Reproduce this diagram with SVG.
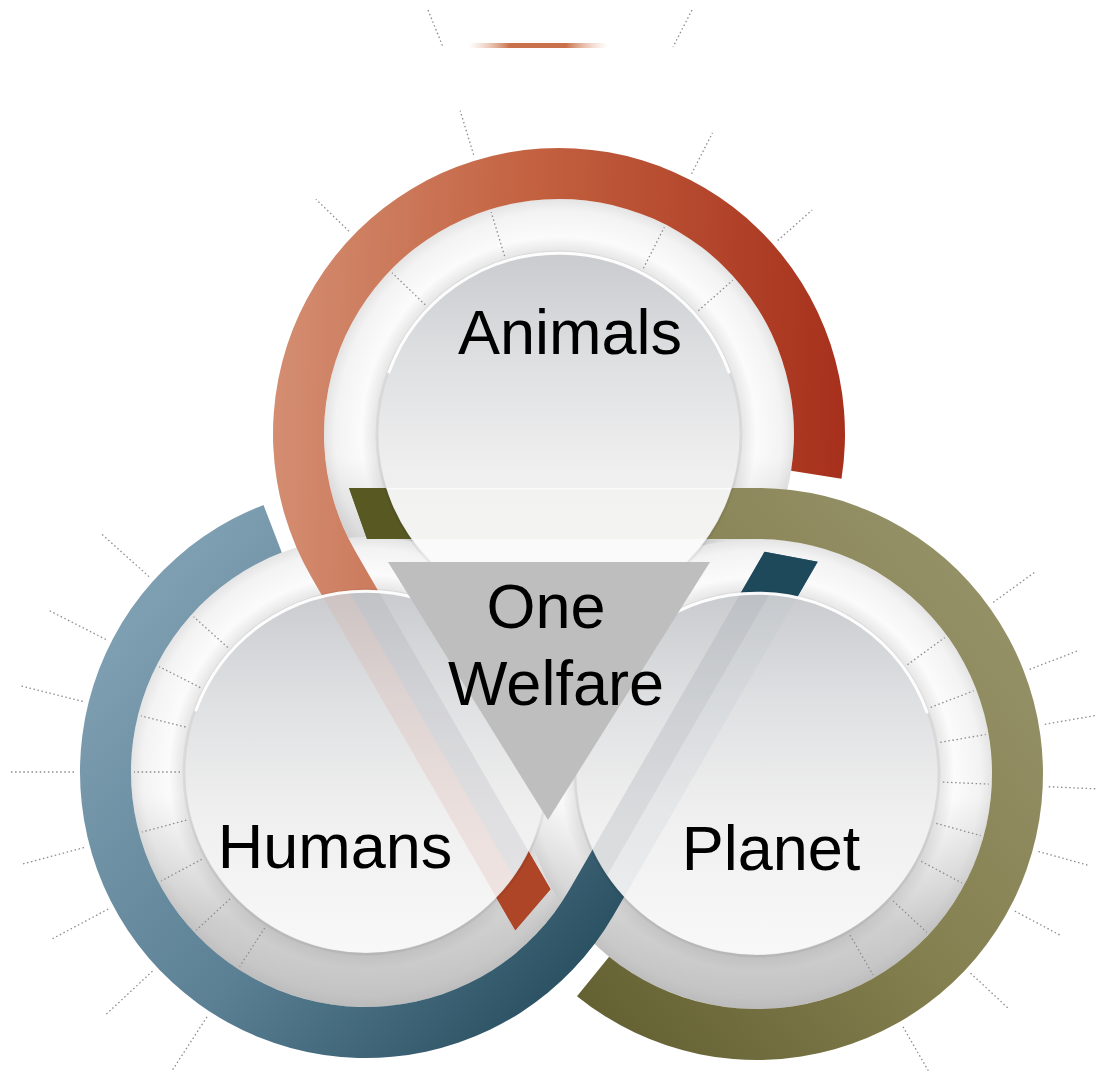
<svg xmlns="http://www.w3.org/2000/svg" width="1096" height="1088" viewBox="0 0 1096 1088">
  <defs>
    <style>
      .dot { stroke:#8c8c8c; stroke-width:1.3; stroke-dasharray:1.5 2.6; fill:none; }
      .plate { fill:url(#plateFill); }
      .plateShade { fill:url(#plateShade); }
      .disc { fill:url(#discFill); }
      .rim { fill:none; stroke:#ffffff; stroke-width:3; stroke-linecap:round; opacity:0.95; }
      .discEdge { fill:none; stroke:#000; stroke-opacity:0.05; stroke-width:3; }
      .label { font-family:"Liberation Sans", Arial, sans-serif; font-size:63px; fill:#000; text-anchor:middle; }
    </style>
    <radialGradient id="plateFill" cx="0.5" cy="0.5" r="0.5">
      <stop offset="0.76" stop-color="#e0e0e0"/>
      <stop offset="0.84" stop-color="#fbfbfb"/>
      <stop offset="0.95" stop-color="#f3f3f3"/>
      <stop offset="1" stop-color="#e4e4e4"/>
    </radialGradient>
    <linearGradient id="plateShade" x1="0" y1="0" x2="0" y2="1">
      <stop offset="0" stop-color="#9a9a9a" stop-opacity="0"/>
      <stop offset="0.55" stop-color="#9a9a9a" stop-opacity="0"/>
      <stop offset="0.82" stop-color="#9a9a9a" stop-opacity="0.45"/>
      <stop offset="1" stop-color="#9a9a9a" stop-opacity="0.55"/>
    </linearGradient>
    <linearGradient id="discFill" x1="0" y1="0" x2="0" y2="1">
      <stop offset="0" stop-color="#c9cbce"/>
      <stop offset="0.3" stop-color="#dfe0e2"/>
      <stop offset="0.6" stop-color="#efefef"/>
      <stop offset="1" stop-color="#f8f8f8"/>
    </linearGradient>
    <linearGradient id="redRing" gradientUnits="userSpaceOnUse" x1="270" y1="420" x2="850" y2="440">
      <stop offset="0" stop-color="#d48e72"/>
      <stop offset="0.45" stop-color="#c2603f"/>
      <stop offset="1" stop-color="#a62f1b"/>
    </linearGradient>
    <linearGradient id="blueRing" gradientUnits="userSpaceOnUse" x1="150" y1="600" x2="620" y2="1000">
      <stop offset="0" stop-color="#7e9eb1"/>
      <stop offset="0.5" stop-color="#5b8094"/>
      <stop offset="1" stop-color="#214859"/>
    </linearGradient>
    <linearGradient id="oliveRing" gradientUnits="userSpaceOnUse" x1="1040" y1="600" x2="560" y2="1000">
      <stop offset="0" stop-color="#97936a"/>
      <stop offset="0.5" stop-color="#858050"/>
      <stop offset="1" stop-color="#625f31"/>
    </linearGradient>
    <linearGradient id="topBar" x1="0" y1="0" x2="1" y2="0">
      <stop offset="0" stop-color="#e8b79c" stop-opacity="0"/>
      <stop offset="0.3" stop-color="#c9714a"/>
      <stop offset="0.7" stop-color="#c9714a"/>
      <stop offset="1" stop-color="#e8b79c" stop-opacity="0"/>
    </linearGradient>
    <clipPath id="clipAnimals"><circle cx="559" cy="434" r="181"/></clipPath>
    <clipPath id="clipHumans"><circle cx="366" cy="772" r="181"/></clipPath>
    <clipPath id="clipPlanet"><circle cx="757" cy="774" r="181"/></clipPath>
  </defs>

  <rect width="1096" height="1088" fill="#ffffff"/>

  <!-- strip along the top edge -->
  <g id="top-strip">
    <rect x="468" y="43" width="140" height="5" fill="url(#topBar)"/>
    <line class="dot" x1="428" y1="10" x2="443" y2="47"/>
    <line class="dot" x1="692" y1="10" x2="673" y2="47"/>
  </g>

  <!-- radial ticks outside the rings -->
  <g id="ticks-outer">
    <g transform="translate(559 434)">
      <line class="dot" x1="292" y1="0" x2="338" y2="0" transform="rotate(-136)"/>
      <line class="dot" x1="292" y1="0" x2="338" y2="0" transform="rotate(-107)"/>
      <line class="dot" x1="292" y1="0" x2="338" y2="0" transform="rotate(-63)"/>
      <line class="dot" x1="292" y1="0" x2="338" y2="0" transform="rotate(-41.5)"/>
    </g>
    <g transform="translate(366 772)">
      <line class="dot" x1="292" y1="0" x2="356" y2="0" transform="rotate(123)"/>
      <line class="dot" x1="292" y1="0" x2="356" y2="0" transform="rotate(137)"/>
      <line class="dot" x1="292" y1="0" x2="356" y2="0" transform="rotate(152)"/>
      <line class="dot" x1="292" y1="0" x2="356" y2="0" transform="rotate(165)"/>
      <line class="dot" x1="292" y1="0" x2="356" y2="0" transform="rotate(180)"/>
      <line class="dot" x1="292" y1="0" x2="356" y2="0" transform="rotate(194)"/>
      <line class="dot" x1="292" y1="0" x2="356" y2="0" transform="rotate(207)"/>
      <line class="dot" x1="292" y1="0" x2="356" y2="0" transform="rotate(222)"/>
    </g>
    <g transform="translate(757 774)">
      <line class="dot" x1="292" y1="0" x2="345" y2="0" transform="rotate(-36)"/>
      <line class="dot" x1="292" y1="0" x2="345" y2="0" transform="rotate(-21)"/>
      <line class="dot" x1="292" y1="0" x2="345" y2="0" transform="rotate(-9.8)"/>
      <line class="dot" x1="292" y1="0" x2="345" y2="0" transform="rotate(2.5)"/>
      <line class="dot" x1="292" y1="0" x2="345" y2="0" transform="rotate(15.4)"/>
      <line class="dot" x1="292" y1="0" x2="345" y2="0" transform="rotate(28)"/>
      <line class="dot" x1="292" y1="0" x2="345" y2="0" transform="rotate(43)"/>
      <line class="dot" x1="292" y1="0" x2="345" y2="0" transform="rotate(60)"/>
    </g>
  </g>

  <!-- white plates under each ring -->
  <g id="plates">
    <circle class="plate" cx="559" cy="434" r="235"/>
    <circle class="plateShade" cx="559" cy="434" r="235"/>
    <circle class="plate" cx="366" cy="772" r="235"/>
    <circle class="plateShade" cx="366" cy="772" r="235"/>
    <circle class="plate" cx="757" cy="774" r="235"/>
    <circle class="plateShade" cx="757" cy="774" r="235"/>
  </g>

  <!-- ticks across the plates -->
  <g id="ticks-plate">
    <g transform="translate(559 434)">
      <line class="dot" x1="186" y1="0" x2="232" y2="0" transform="rotate(-136)"/>
      <line class="dot" x1="186" y1="0" x2="232" y2="0" transform="rotate(-107)"/>
      <line class="dot" x1="186" y1="0" x2="232" y2="0" transform="rotate(-63)"/>
      <line class="dot" x1="186" y1="0" x2="232" y2="0" transform="rotate(-41.5)"/>
    </g>
    <g transform="translate(366 772)">
      <line class="dot" x1="186" y1="0" x2="232" y2="0" transform="rotate(123)"/>
      <line class="dot" x1="186" y1="0" x2="232" y2="0" transform="rotate(137)"/>
      <line class="dot" x1="186" y1="0" x2="232" y2="0" transform="rotate(152)"/>
      <line class="dot" x1="186" y1="0" x2="232" y2="0" transform="rotate(165)"/>
      <line class="dot" x1="186" y1="0" x2="232" y2="0" transform="rotate(180)"/>
      <line class="dot" x1="186" y1="0" x2="232" y2="0" transform="rotate(194)"/>
      <line class="dot" x1="186" y1="0" x2="232" y2="0" transform="rotate(207)"/>
      <line class="dot" x1="186" y1="0" x2="232" y2="0" transform="rotate(222)"/>
    </g>
    <g transform="translate(757 774)">
      <line class="dot" x1="186" y1="0" x2="232" y2="0" transform="rotate(-36)"/>
      <line class="dot" x1="186" y1="0" x2="232" y2="0" transform="rotate(-21)"/>
      <line class="dot" x1="186" y1="0" x2="232" y2="0" transform="rotate(-9.8)"/>
      <line class="dot" x1="186" y1="0" x2="232" y2="0" transform="rotate(2.5)"/>
      <line class="dot" x1="186" y1="0" x2="232" y2="0" transform="rotate(15.4)"/>
      <line class="dot" x1="186" y1="0" x2="232" y2="0" transform="rotate(28)"/>
      <line class="dot" x1="186" y1="0" x2="232" y2="0" transform="rotate(43)"/>
      <line class="dot" x1="186" y1="0" x2="232" y2="0" transform="rotate(60)"/>
    </g>
  </g>

  <!-- the three interlocking bands: arc, then a straight run into the next circle -->
  <g id="connectors">
    <path id="band-animals" fill="url(#redRing)" d="M 841.48 478.74 A 286 286 0 1 0 311.32 577 L 515.32 930.34 L 550.48 889.25 L 355.48 551.5 A 235 235 0 1 1 791.11 470.76 Z"/>
    <polygon id="tip-animals" fill="#ad4526" points="481.32,871.45 515.32,930.34 550.48,889.25 525.48,845.95"/>
    <path id="band-humans" fill="url(#blueRing)" d="M 263.51 505 A 286 286 0 1 0 613.68 915 L 817.68 561.66 L 764.52 551.75 L 569.52 889.5 A 235 235 0 1 1 281.78 552.61 Z"/>
    <polygon id="tip-humans" fill="#1e495b" points="783.68,620.55 817.68,561.66 764.52,551.75 739.52,595.05"/>
    <path id="band-planet" fill="url(#oliveRing)" d="M 577.01 996.26 A 286 286 0 1 0 757 488 L 349 488 L 367 539 L 757 539 A 235 235 0 1 1 609.11 956.63 Z"/>
    <polygon id="tip-planet" fill="#575822" points="417,488 349,488 367,539 417,539"/>
  </g>

  <!-- Animals -->
  <g id="node-animals">
    <circle class="disc" cx="559" cy="434" r="181"/>
    <g clip-path="url(#clipAnimals)">
      <rect x="300" y="488" width="500" height="51" fill="#f4f4f0" opacity="0.45"/>
      <rect x="300" y="488" width="500" height="1.5" fill="#ffffff" opacity="0.7"/>
      <rect x="300" y="539" width="500" height="25" fill="#ffffff" opacity="0.55"/>
    </g>
    <circle class="discEdge" cx="559" cy="434" r="182"/>
    <path class="rim" d="M 389 372 A 181 181 0 0 1 729 372"/>
    <text class="label" x="570" y="354">Animals</text>
  </g>

  <!-- Humans -->
  <g id="node-humans">
    <circle class="disc" cx="366" cy="772" r="181"/>
    <g clip-path="url(#clipHumans)">
      <polygon points="311.32,577 515.32,930.34 537.4,917.6 333.4,564.25" fill="#d9a89c" opacity="0.22"/>
      <polygon points="333.4,564.25 537.4,917.6 550.48,889.25 355.48,551.5" fill="#9ea2a8" opacity="0.2"/>
    </g>
    <circle class="discEdge" cx="366" cy="772" r="182"/>
    <path class="rim" d="M 196 710 A 181 181 0 0 1 536 710"/>
    <text class="label" x="335" y="868">Humans</text>
  </g>

  <!-- Planet -->
  <g id="node-planet">
    <circle class="disc" cx="757" cy="774" r="181"/>
    <g clip-path="url(#clipPlanet)">
      <polygon points="569.52,889.5 764.52,551.75 791.1,556.7 591.6,902.25" fill="#9ea4ad" opacity="0.28"/>
      <polygon points="591.6,902.25 791.1,556.7 817.68,561.66 613.68,915" fill="#b9c0c8" opacity="0.18"/>
    </g>
    <circle class="discEdge" cx="757" cy="774" r="182"/>
    <path class="rim" d="M 587 712 A 181 181 0 0 1 927 712"/>
    <text class="label" x="771" y="870">Planet</text>
  </g>

  <!-- centre -->
  <g id="node-one-welfare">
    <polygon points="388,562 710,562 548,820" fill="#bebebe"/>
    <text class="label" x="546" y="628">One</text>
    <text class="label" x="556" y="705">Welfare</text>
  </g>
</svg>
